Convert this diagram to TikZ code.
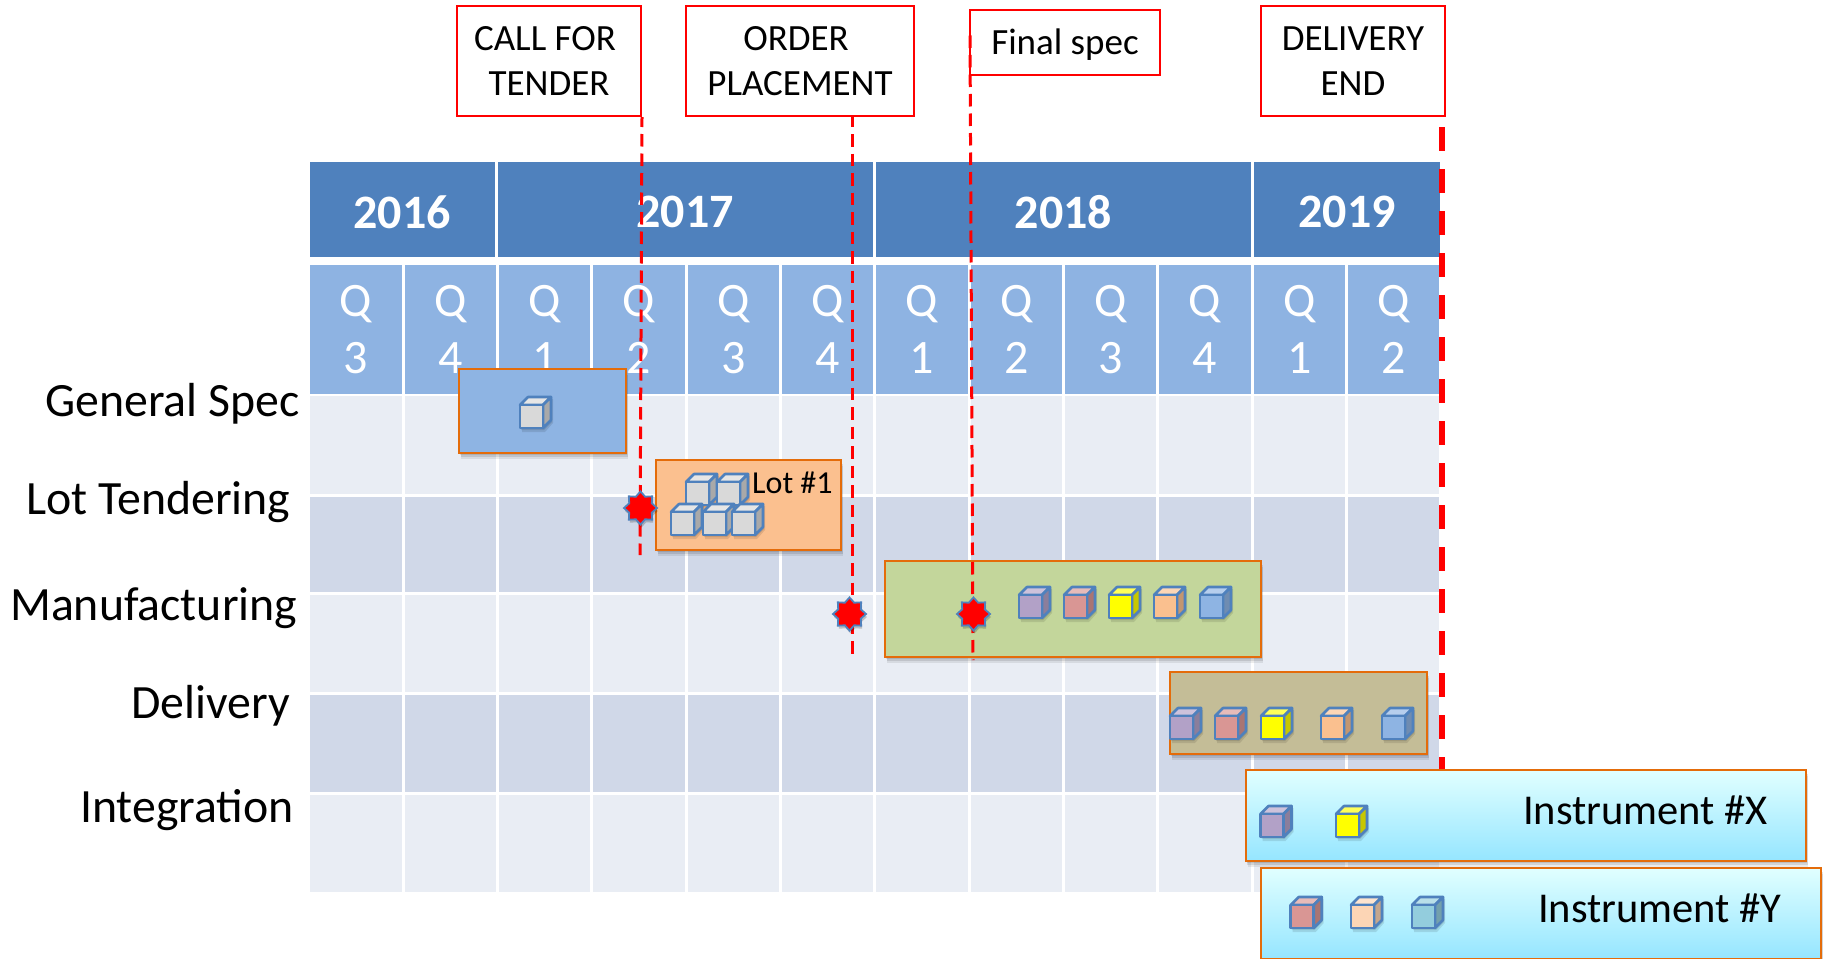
\documentclass[tikz,border=0pt]{standalone}
\usepackage{fontspec}
\setmainfont{Carlito}
\usetikzlibrary{shapes.geometric,shadows}
\definecolor{yearblue}{HTML}{4F81BD}
\definecolor{qblue}{HTML}{8EB3E2}
\definecolor{rowlight}{HTML}{E9EDF4}
\definecolor{rowdark}{HTML}{D0D8E8}
\definecolor{barorange}{HTML}{E46C0A}
\definecolor{barblue}{HTML}{8EB4E3}
\definecolor{barpeach}{HTML}{FBC08F}
\definecolor{bargreen}{HTML}{C3D69B}
\definecolor{bartan}{HTML}{C4BD97}
\definecolor{cubegrey}{HTML}{D9D9D9}
\definecolor{cubepurple}{HTML}{B2A1C7}
\definecolor{cubered}{HTML}{D99694}
\definecolor{cubeyellow}{HTML}{FFFF00}
\definecolor{cubepeach}{HTML}{FAC08F}
\definecolor{cubeblue}{HTML}{8EB4E3}
\definecolor{cubelight}{HTML}{FCD5B5}
\definecolor{cubeteal}{HTML}{93CDDD}
\tikzset{
  softshadow/.style={
    drop shadow={fill=black,opacity=.10,shadow xshift=1pt,shadow yshift=-2pt},
    drop shadow={fill=black,opacity=.10,shadow xshift=1.5pt,shadow yshift=-4pt},
    drop shadow={fill=black,opacity=.08,shadow xshift=2pt,shadow yshift=-6pt}},
  yearcell/.style={fill=yearblue,text=white,minimum height=95pt,inner sep=0pt,outer sep=0pt,font=\fontsize{48}{52}\selectfont\bfseries},
  qcell/.style={fill=qblue,text=white,minimum width=91.3pt,minimum height=129pt,inner sep=0pt,outer sep=0pt,align=center,font=\fontsize{48}{57}\selectfont},
  gridcell/.style={minimum width=91.3pt,inner sep=0pt,outer sep=0pt},
  rowlabel/.style={anchor=base west,inner sep=0pt,text=black,font=\fontsize{47.8}{52}\selectfont},
  callout/.style={draw=red,fill=white,line width=2pt,anchor=north west,inner sep=0pt,align=center,font=\fontsize{37}{45}\selectfont},
  guide/.style={draw=red,line width=3pt,dash pattern=on 12.5pt off 7pt,dash phase=2.5pt},
  endguide/.style={draw=red,line width=6.5pt,dash pattern=on 24pt off 18pt},
  bar/.style={draw=barorange,line width=2.4pt,anchor=north west,inner sep=0pt,softshadow},
  barlabel/.style={anchor=base west,inner sep=0pt,font=\fontsize{42.5}{48}\selectfont},
  milestone/.style={star,star points=8,star point ratio=1.35,fill=red,draw=yearblue,line width=1.8pt,minimum size=33pt,inner sep=0pt,drop shadow={fill=black,opacity=.2,shadow xshift=1pt,shadow yshift=-3pt}},
  pics/cubepic/.style={code={
    \fill[black,opacity=.10] (2,10) -- (10,2) -- (33,2) -- (33,26) -- (25,35) -- (2,35) -- cycle;
    \fill[black,opacity=.10] (1,9) -- (9,1) -- (32,1) -- (32,25) -- (24,33) -- (1,33) -- cycle;
    \path[draw=yearblue,line width=2.6pt,line join=round,fill=#1!65!white] (0,8) -- (8,0) -- (31,0) -- (23,8) -- cycle;
    \path[draw=yearblue,line width=2.6pt,line join=round,fill=#1!78!black] (23,8) -- (31,0) -- (31,23) -- (23,31) -- cycle;
    \path[draw=yearblue,line width=2.6pt,line join=round,fill=#1] (0,8) rectangle (23,31);
  }}
}
\newcommand{\lowered}[1]{\raisebox{-2.5pt}[\height][\depth]{#1}}
\begin{document}
\begin{tikzpicture}[x=1pt,y=-1pt]
\useasboundingbox (0,0) rectangle (1825,958);
\begin{scope}[xshift=-1pt]
% year header
\node[yearcell,minimum width=185pt] (y2016) at (403,209.5) {\lowered{2016}};
\node[yearcell,minimum width=375pt] (y2017) at (686,209.5) {\lowered{2017}};
\node[yearcell,minimum width=375pt] (y2018) at (1064.5,209.5) {\lowered{2018}};
\node[yearcell,minimum width=186pt] (y2019) at (1348,209.5) {\lowered{2019}};
% quarters
\foreach \d [count=\i from 0] in {3,4,1,2,3,4,1,2,3,4,1,2}
  \node[qcell] (q\i) at ({309.8+94.33*(\i+.5)},329.5) {Q\\\d};
% rows
\foreach \c/\cy/\h [count=\r] in {rowlight/444.5/98,rowdark/544/95,rowlight/643/97,rowdark/743/97,rowlight/843/97}
  \foreach \i in {0,...,11}
    \node[gridcell,fill=\c,minimum height=\h pt] (cell\r-\i) at ({309.8+94.33*(\i+.5)},\cy) {};
% row labels
\node[rowlabel] (lspec) at (46,416) {General Spec};
\node[rowlabel] (ltender) at (27,514) {Lot Tendering};
\node[rowlabel] (lmanu) at (11,620) {Manufacturing};
\node[rowlabel] (ldeliv) at (132,718) {Delivery};
\node[rowlabel] (linteg) at (81,822) {Integration};
% callouts
\node[callout,minimum width=184pt,minimum height=110pt] (ctender) at (457,5) {CALL FOR\hspace*{8pt}\\TENDER};
\node[callout,minimum width=228pt,minimum height=110pt] (corder) at (686,5) {ORDER\hspace*{8pt}\\PLACEMENT};
\node[callout,minimum width=190pt,minimum height=65pt] (cfinal) at (970,9) {\lowered{Final spec}};
\node[callout,minimum width=184pt,minimum height=110pt] (cend) at (1261,5) {DELIVERY\\END};
% guides
\coordinate (tenderEnd) at (641,555);
\coordinate (orderEnd) at (853,660);
\coordinate (finalTop) at (971,35.5);
\coordinate (finalEnd) at (974,660);
\coordinate (endTop) at (1443,127);
\coordinate (endBot) at (1443,775);
\draw[guide] (ctender.south east) -- (tenderEnd);
\draw[guide] (corder.south -| orderEnd) -- (orderEnd);
\draw[endguide] (endTop) -- (endBot);
% bars
\node[bar,fill=barblue,minimum width=167pt,minimum height=84pt] (bspec) at (459,368) {};
\node[bar,fill=barpeach,minimum width=185pt,minimum height=90pt] (blot) at (656,459) {};
\node[bar,fill=bargreen,minimum width=376pt,minimum height=96pt] (bmanu) at (885,560) {};
\draw[guide,dash phase=0pt] (finalTop) -- (finalEnd);
\node[bar,fill=bartan,minimum width=257pt,minimum height=82pt] (bdeliv) at (1170,671) {};
\node[bar,top color=cyan!12!white,bottom color=cyan!35!white!90!blue,minimum width=560.5pt,minimum height=91pt] (bx) at (1245.5,769) {};
\node[bar,top color=cyan!12!white,bottom color=cyan!35!white!90!blue,minimum width=560.5pt,minimum height=91pt] (by) at (1260.5,867) {};
% bar texts
\node[anchor=base west,inner sep=0pt,font=\fontsize{32}{36}\selectfont] (tlot) at (753,493) {Lot \#1};
\node[barlabel] (tx) at (1524,824) {Instrument \#X};
\node[barlabel] (ty) at (1539,922) {Instrument \#Y};
% milestones
\node[milestone] (m1) at (641.5,508) {};
\node[milestone] (m2) at (850.5,614) {};
\node[milestone] (m3) at (974.5,614) {};
% cubes
\pic at (521,397) {cubepic=cubegrey};
\pic at (687,474) {cubepic=cubegrey};
\pic at (718,474) {cubepic=cubegrey};
\pic at (672,504) {cubepic=cubegrey};
\pic at (704,504) {cubepic=cubegrey};
\pic at (733,504) {cubepic=cubegrey};
\pic at (1020,587) {cubepic=cubepurple};
\pic at (1065,587) {cubepic=cubered};
\pic at (1110,587) {cubepic=cubeyellow};
\pic at (1155,587) {cubepic=cubepeach};
\pic at (1201,587) {cubepic=cubeblue};
\pic at (1171,708) {cubepic=cubepurple};
\pic at (1216,708) {cubepic=cubered};
\pic at (1262,708) {cubepic=cubeyellow};
\pic at (1322,708) {cubepic=cubepeach};
\pic at (1383,708) {cubepic=cubeblue};
\pic at (1261.5,806) {cubepic=cubepurple};
\pic at (1337,806) {cubepic=cubeyellow};
\pic at (1291.7,897) {cubepic=cubered};
\pic at (1352,897) {cubepic=cubelight};
\pic at (1413,897) {cubepic=cubeteal};
\end{scope}
\end{tikzpicture}
\end{document}
